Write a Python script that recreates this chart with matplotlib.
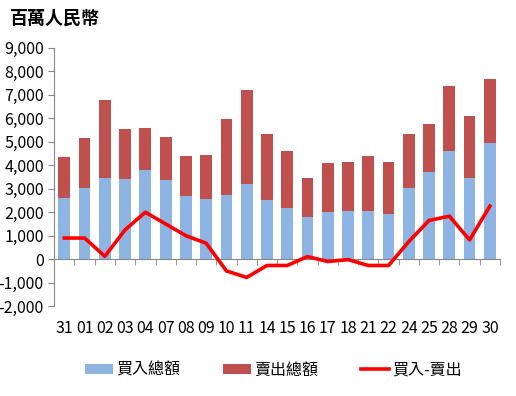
import matplotlib
matplotlib.use("Agg")
import matplotlib.pyplot as plt
import numpy as np

plt.rcParams["font.family"] = ["Liberation Sans Narrow", "Noto Sans CJK TC", "DejaVu Sans"]

days = ["31", "01", "02", "03", "04", "07", "08", "09", "10", "11", "14",
        "15", "16", "17", "18", "21", "22", "24", "25", "28", "29", "30"]
buy = [2600, 3030, 3460, 3410, 3800, 3370, 2690, 2560, 2730, 3200, 2520,
       2180, 1790, 2010, 2050, 2050, 1920, 3030, 3710, 4610, 3460, 4950]
sell = [1750, 2130, 3320, 2140, 1790, 1830, 1700, 1880, 3240, 4010, 2810,
        2430, 1670, 2090, 2090, 2340, 2220, 2300, 2050, 2770, 2640, 2730]
net = [900, 900, 120, 1250, 2000, 1500, 1000, 680, -500, -780, -270,
       -270, 110, -100, -20, -270, -270, 750, 1650, 1830, 820, 2260]

blue = "#8EB4E3"
red = "#C0504D"
line_red = "#FF0000"
grey = "#878787"

fig = plt.figure(figsize=(5.16, 3.96), dpi=100)
ax = fig.add_axes([0.105, 0.227, 0.864, 0.652])

x = np.arange(len(days))
b1 = ax.bar(x, buy, width=0.58, color=blue, label="買入總額", zorder=2)
b2 = ax.bar(x, sell, width=0.58, bottom=buy, color=red, label="賣出總額", zorder=2)
ln, = ax.plot(x, net, color=line_red, lw=2.6, label="買入-賣出", zorder=3)

ax.set_xlim(-0.5, len(days) - 0.5)
ax.set_ylim(-2000, 9000)
ax.set_yticks(np.arange(-2000, 9001, 1000))
ax.set_yticklabels([f"{v:,}" for v in range(-2000, 9001, 1000)])

for s in ["top", "right"]:
    ax.spines[s].set_visible(False)
ax.spines["left"].set_color(grey)
ax.spines["bottom"].set_color(grey)
ax.spines["bottom"].set_position(("data", 0))

ax.set_xticks(x)
ax.set_xticklabels(days)
ax.set_xticks(np.arange(len(days) + 1) - 0.5, minor=True)
ax.tick_params(axis="x", which="major", length=0, pad=44, labelsize=11.5)
ax.tick_params(axis="x", which="minor", length=4, color=grey, direction="out")
ax.tick_params(axis="y", length=4, color=grey, labelsize=11.5)

fig.text(0.02, 0.955, "百萬人民幣", fontsize=13, fontweight="bold",
         va="center", ha="left")

fig.legend(handles=[b1, b2, ln], loc="center", bbox_to_anchor=(0.53, 0.065),
           ncol=3, frameon=False, fontsize=11.5, handlelength=1.75,
           handleheight=0.6, columnspacing=2.7, handletextpad=0.2)

fig.savefig("out.png", dpi=100)
